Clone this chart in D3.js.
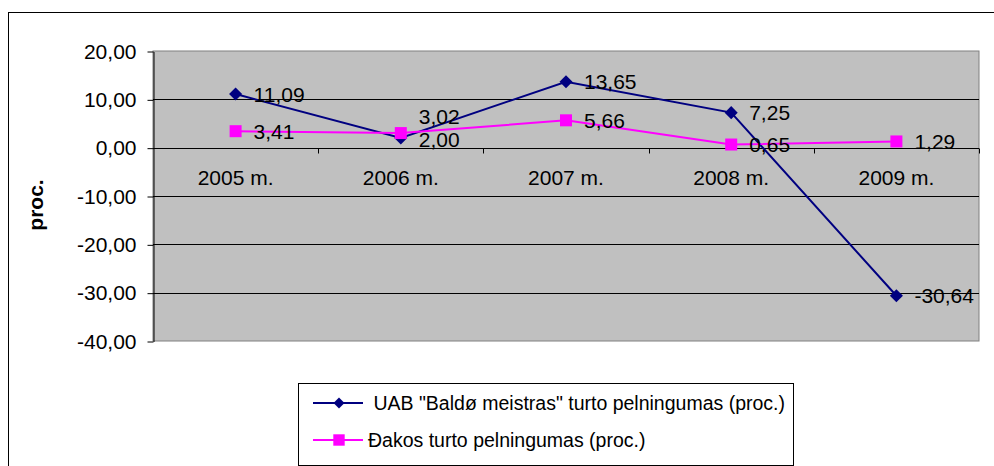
<!DOCTYPE html>
<html>
<head>
<meta charset="utf-8">
<style>
  body { margin: 0; background: #fff; }
  svg { display: block; font-family: "Liberation Sans", Arial, sans-serif; }
</style>
</head>
<body>
<script src="https://d3js.org/d3.v7.min.js"></script>
<script>
var width = 994, height = 466;

// data
let years = ["2005 m.", "2006 m.", "2007 m.", "2008 m.", "2009 m."];
let baldu = [11.09, 2.00, 13.65, 7.25, -30.64];
let sakos = [3.41, 3.02, 5.66, 0.65, 1.29];
let yTicks = [-40, -30, -20, -10, 0, 10, 20];
let seriesNames = [' UAB "Baldø meistras" turto pelningumas (proc.)', "Đakos turto pelningumas (proc.)"];
let yTitle = "proc.";

let loc = d3.formatLocale({decimal: ",", thousands: " ", grouping: [3], currency: ["", ""], minus: "-"});
let fmt = loc.format(".2f");

let plot = {left: 153, top: 51, right: 979, bottom: 341};

var svg = d3.select("body").append("svg")
    .attr("width", width)
    .attr("height", height);

// outer chart frame (right and bottom fall outside the picture)
svg.append("rect")
    .attr("x", 8.5).attr("y", 12.5)
    .attr("width", 1000).attr("height", 500)
    .attr("fill", "#fff").attr("stroke", "#000");

var x = d3.scaleBand().domain(years).range([plot.left, plot.right]);
var y = d3.scaleLinear().domain([-40, 20]).range([plot.bottom, plot.top]);

// plot area
svg.append("rect")
    .attr("x", plot.left).attr("y", plot.top)
    .attr("width", plot.right - plot.left).attr("height", plot.bottom - plot.top)
    .attr("fill", "#c0c0c0").attr("stroke", "#808080");

// gridlines
svg.append("g").selectAll("line")
    .data(yTicks.filter(d => d > -40 && d < 20))
    .enter().append("line")
    .attr("x1", plot.left).attr("x2", plot.right)
    .attr("y1", d => Math.round(y(d)) + 0.5).attr("y2", d => Math.round(y(d)) + 0.5)
    .attr("stroke", "#000");

// y axis
let ya = svg.append("g")
    .attr("transform", `translate(${plot.left + 0.5},0.5)`)
    .call(d3.axisLeft(y).tickValues(yTicks).tickFormat(fmt).tickSize(6).tickSizeOuter(0).tickPadding(11));
ya.selectAll("text").attr("font-size", 21).attr("fill", "#000").attr("font-family", null);
ya.selectAll("line,path").attr("stroke", "#000");

// x axis along zero
let y0 = Math.round(y(0)) + 0.5;
let xa = svg.append("g")
    .attr("transform", `translate(0,${y0})`)
    .call(d3.axisBottom(x).tickSize(0).tickPadding(22));
xa.select(".domain").remove();
xa.selectAll("text").attr("font-size", 21).attr("fill", "#000").attr("font-family", null);

let bounds = years.slice(1).map(d => x(d)).concat([plot.right]);
svg.append("g").selectAll("line")
    .data(bounds).enter().append("line")
    .attr("x1", d => Math.round(d) + 0.5).attr("x2", d => Math.round(d) + 0.5)
    .attr("y1", y0).attr("y2", y0 + 5)
    .attr("stroke", "#000");

svg.append("line")
    .attr("x1", plot.left).attr("x2", plot.right)
    .attr("y1", y0).attr("y2", y0)
    .attr("stroke", "#000");

// y title
svg.append("text")
    .attr("transform", "translate(43,205) rotate(-90)")
    .attr("text-anchor", "middle")
    .attr("font-size", 21).attr("font-weight", "bold")
    .text(yTitle);

let cx = d => x(d) + x.bandwidth() / 2;
// diamond = square turned 45 degrees
let series = [
  {vals: baldu, color: "#000080", shape: d3.symbolSquare, size: 85, rot: 45},
  {vals: sakos, color: "#ff00ff", shape: d3.symbolSquare, size: 144, rot: 0}
];

let line = d3.line().x((d, i) => cx(years[i])).y(d => y(d));

series.forEach(s => {
  svg.append("path")
      .datum(s.vals)
      .attr("d", line)
      .attr("fill", "none")
      .attr("stroke", s.color)
      .attr("stroke-width", 2);
  svg.append("g").selectAll("path")
      .data(s.vals).enter().append("path")
      .attr("transform", (d, i) => `translate(${cx(years[i])},${y(d)}) rotate(${s.rot})`)
      .attr("d", d3.symbol().type(s.shape).size(s.size))
      .attr("fill", s.color);
});

// data labels, nudged apart where they would overlap
years.forEach((yr, i) => {
  let a = {v: baldu[i], ly: y(baldu[i])};
  let b = {v: sakos[i], ly: y(sakos[i])};
  if (Math.abs(a.ly - b.ly) < 22) {
    let hi = a.v > b.v ? a : b, lo = a.v > b.v ? b : a;
    lo.ly += 1.5;
    hi.ly = lo.ly - 23;
  }
  [a, b].forEach(p => {
    svg.append("text")
        .attr("x", cx(yr) + 18).attr("y", p.ly)
        .attr("dy", "0.36em")
        .attr("font-size", 21)
        .text(fmt(p.v));
  });
});

// legend
let lg = svg.append("g");
lg.append("rect")
    .attr("x", 298.5).attr("y", 383.5).attr("width", 495).attr("height", 82)
    .attr("fill", "#fff").attr("stroke", "#000");
series.forEach((s, i) => {
  let ly = 403 + i * 37;
  lg.append("line")
      .attr("x1", 313).attr("x2", 363).attr("y1", ly).attr("y2", ly)
      .attr("stroke", s.color).attr("stroke-width", 2);
  lg.append("path")
      .attr("transform", `translate(339,${ly}) rotate(${s.rot})`)
      .attr("d", d3.symbol().type(s.shape).size(i == 0 ? 60 : 130))
      .attr("fill", s.color);
  lg.append("text")
      .attr("x", 368).attr("y", ly)
      .attr("dy", "0.36em")
      .attr("font-size", 19.5)
      .style("white-space", "pre")
      .text(seriesNames[i]);
});
</script>
</body>
</html>
